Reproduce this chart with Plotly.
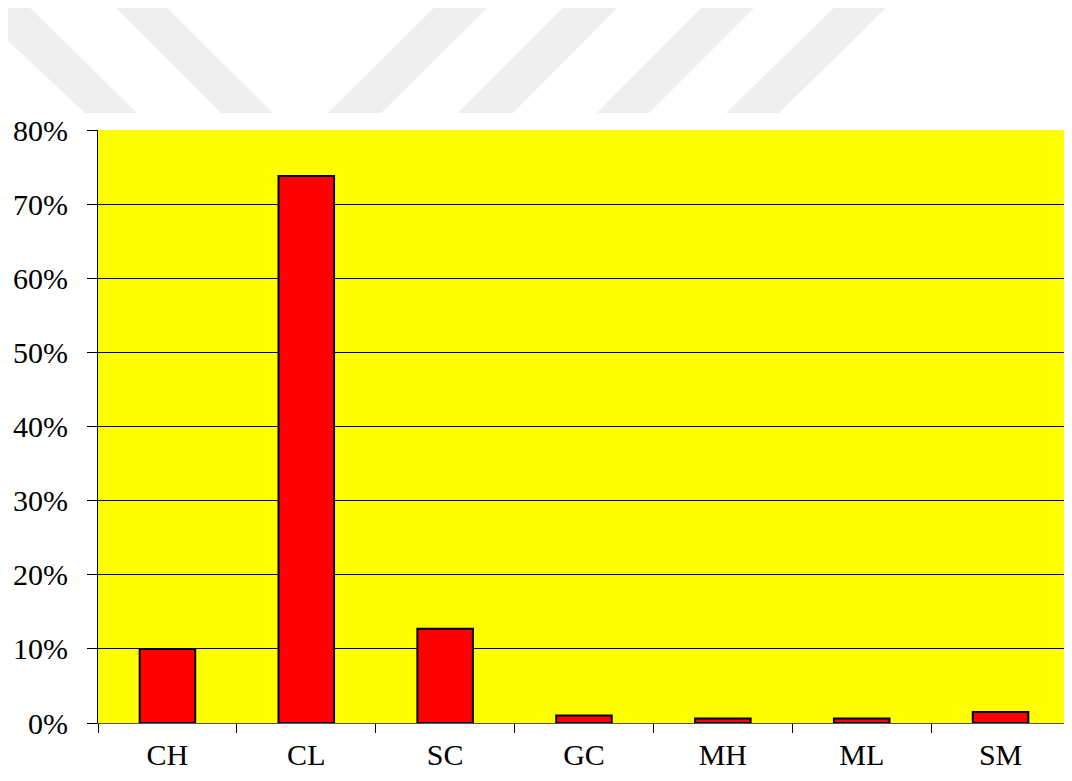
import plotly.graph_objects as go

categories = ["CH", "CL", "SC", "GC", "MH", "ML", "SM"]
values = [10.0, 73.8, 12.7, 1.0, 0.6, 0.6, 1.5]
y_ticks = [0, 10, 20, 30, 40, 50, 60, 70, 80]
y_tick_labels = [f"{v}%" for v in y_ticks]

OFF = 8  # default page body margin
W, H = 1064, 773
L, R, T, B = 90, 2, 122, 58
pw, ph = W - L - R, H - T - B

def px(x):
    return (x - OFF - L) / pw

def py(y):
    return (H - B - (y - OFF)) / ph

# faint watermark stripes (page pixel coordinates)
stripes = [
    [(-30, 5), (27, 5), (137, 113), (85, 113)],
    [(113, 5), (164, 5), (273, 113), (221, 113)],
    [(437, 5), (490, 5), (381, 113), (328, 113)],
    [(566, 5), (620, 5), (513, 113), (458, 113)],
    [(704, 5), (757, 5), (649, 113), (597, 113)],
    [(837, 5), (889, 5), (779, 113), (726, 113)],
]
shapes = []
for s in stripes:
    path = "M " + " L ".join(f"{px(x):.5f},{py(y):.5f}" for x, y in s) + " Z"
    shapes.append(dict(type="path", xref="paper", yref="paper", path=path,
                       fillcolor="#efefef", line=dict(width=0), layer="below"))

fig = go.Figure(go.Bar(
    x=categories, y=values,
    marker=dict(color="#ff0000", line=dict(color="#000000", width=2)),
    width=0.4,
))

font = dict(family="Liberation Serif, Times New Roman, serif", size=30, color="#000000")

fig.update_layout(
    width=W, height=H,
    margin=dict(l=L, r=R, t=T, b=B),
    paper_bgcolor="#ffffff",
    plot_bgcolor="#ffff00",
    showlegend=False,
    font=font,
    shapes=shapes,
    xaxis=dict(
        tickson="boundaries", ticks="outside", ticklen=9, tickcolor="#000000",
        showline=True, linecolor="#555555", linewidth=1,
        showgrid=False, tickfont=font, ticklabelstandoff=5,
    ),
    yaxis=dict(
        range=[0, 80], tickvals=y_ticks, ticktext=y_tick_labels,
        ticks="outside", ticklen=10, tickcolor="#000000",
        showline=True, linecolor="#000000", linewidth=1,
        showgrid=True, gridcolor="#000000", gridwidth=1,
        zeroline=False, tickfont=font, ticklabelstandoff=13,
    ),
)

fig.write_html("out.html")
